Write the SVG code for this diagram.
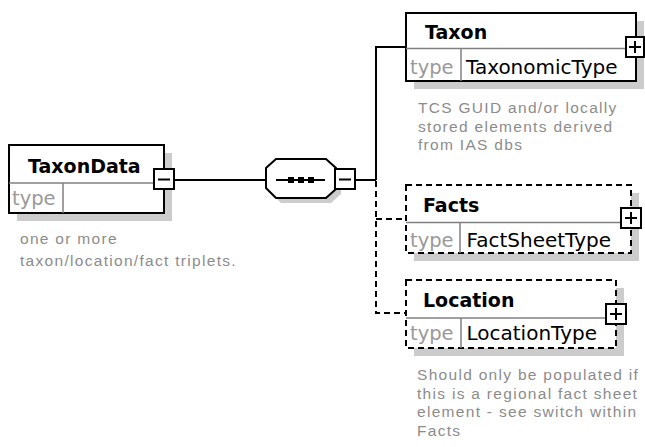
<svg xmlns="http://www.w3.org/2000/svg" width="645" height="447" viewBox="0 0 645 447">
<style>
.bg{fill:#ffffff}
.box{fill:#ffffff;stroke:#000000;stroke-width:2}
.dbox{fill:#ffffff;stroke:#000000;stroke-width:2;stroke-dasharray:6,4}
.shadow{fill:#cccccc}
.div{stroke:#808080;stroke-width:1.5;fill:none}
.ln{stroke:#000000;stroke-width:2;fill:none}
.dln{stroke:#000000;stroke-width:2;fill:none;stroke-dasharray:6,4}
.title{font-family:"DejaVu Sans",sans-serif;font-weight:bold;font-size:19px;fill:#000000}
.tlab{font-family:"DejaVu Sans",sans-serif;font-size:19.5px;fill:#999999}
.tval{font-family:"DejaVu Sans",sans-serif;font-size:20px;fill:#000000}
.desc{font-family:"Liberation Sans",Arial,sans-serif;font-size:15.5px;letter-spacing:1.3px;fill:#8c8c8c}
</style>
<rect class="bg" x="0" y="0" width="645" height="447"/>
<g id="connectors">
<line class="ln" x1="174" y1="180" x2="266" y2="180"/>
<line class="ln" x1="355" y1="180" x2="376" y2="180"/>
<polyline class="ln" points="376,180 376,47 406,47"/>
<polyline class="dln" points="376,181 376,313 406,313"/>
<line class="dln" x1="376" y1="219" x2="406" y2="219"/>
</g>
<g id="TaxonData">
<rect class="shadow" x="17" y="153" width="155" height="68"/>
<rect class="box" x="9" y="145" width="155" height="68"/>
<line class="div" x1="9" y1="183" x2="164" y2="183"/>
<line class="div" x1="63" y1="183" x2="63" y2="213"/>
<text class="title" x="28" y="173">TaxonData</text>
<text class="tlab" x="12" y="205">type</text>
<rect class="box" x="154" y="169" width="20" height="20"/>
<line class="ln" x1="158" y1="179.5" x2="170" y2="179.5"/>
<text class="desc" x="20" y="244">one or more</text>
<text class="desc" x="20" y="266">taxon/location/fact triplets.</text>
</g>
<g id="sequence">
<polygon class="shadow" points="271,173 281,164 331,164 341,173 341,194 331,203 281,203 271,193"/>
<polygon class="box" points="266,168 276,159 326,159 336,168 336,189 326,198 276,198 266,188"/>
<line class="ln" x1="276" y1="180" x2="325" y2="180"/>
<rect x="288" y="177" width="6" height="6" fill="#000"/>
<rect x="298" y="177" width="6" height="6" fill="#000"/>
<rect x="308" y="177" width="6" height="6" fill="#000"/>
<rect class="box" x="335" y="169" width="20" height="20"/>
<line class="ln" x1="339" y1="179.5" x2="351" y2="179.5"/>
</g>
<g id="Taxon">
<rect class="shadow" x="414" y="21" width="230" height="68"/>
<rect class="box" x="406" y="13" width="230" height="68"/>
<line class="div" x1="406" y1="48.5" x2="636" y2="48.5"/>
<line class="div" x1="461" y1="48.5" x2="461" y2="81"/>
<text class="title" x="425" y="39">Taxon</text>
<text class="tlab" x="410" y="74">type</text>
<text class="tval" x="466" y="74">TaxonomicType</text>
<rect class="box" x="626" y="37" width="18" height="20"/>
<line class="ln" x1="629" y1="47" x2="641" y2="47"/>
<line class="ln" x1="635" y1="41" x2="635" y2="53"/>
<text class="desc" x="418" y="113">TCS GUID and/or locally</text>
<text class="desc" x="418" y="131.5">stored elements derived</text>
<text class="desc" x="418" y="150">from IAS dbs</text>
</g>
<g id="Facts">
<rect class="shadow" x="414" y="193" width="225" height="68"/>
<rect class="dbox" x="406" y="185" width="225" height="68"/>
<line class="div" x1="406" y1="222.5" x2="631" y2="222.5"/>
<line class="div" x1="460" y1="222.5" x2="460" y2="253"/>
<text class="title" x="423" y="212">Facts</text>
<text class="tlab" x="410" y="246.5">type</text>
<text class="tval" x="466.5" y="246.5">FactSheetType</text>
<rect class="box" x="621" y="208" width="20" height="20"/>
<line class="ln" x1="625" y1="218" x2="637" y2="218"/>
<line class="ln" x1="631" y1="212" x2="631" y2="224"/>
</g>
<g id="Location">
<rect class="shadow" x="414" y="288" width="210" height="68"/>
<rect class="dbox" x="406" y="280" width="210" height="68"/>
<line class="div" x1="406" y1="318" x2="616" y2="318"/>
<line class="div" x1="461" y1="318" x2="461" y2="348"/>
<text class="title" x="423" y="306.5">Location</text>
<text class="tlab" x="410" y="340">type</text>
<text class="tval" x="466.5" y="340">LocationType</text>
<rect class="box" x="606" y="304" width="20" height="20"/>
<line class="ln" x1="610" y1="314" x2="622" y2="314"/>
<line class="ln" x1="616" y1="308" x2="616" y2="320"/>
<text class="desc" x="417" y="380">Should only be populated if</text>
<text class="desc" x="417" y="398.5">this is a regional fact sheet</text>
<text class="desc" x="417" y="417">element - see switch within</text>
<text class="desc" x="417" y="436">Facts</text>
</g>
</svg>
